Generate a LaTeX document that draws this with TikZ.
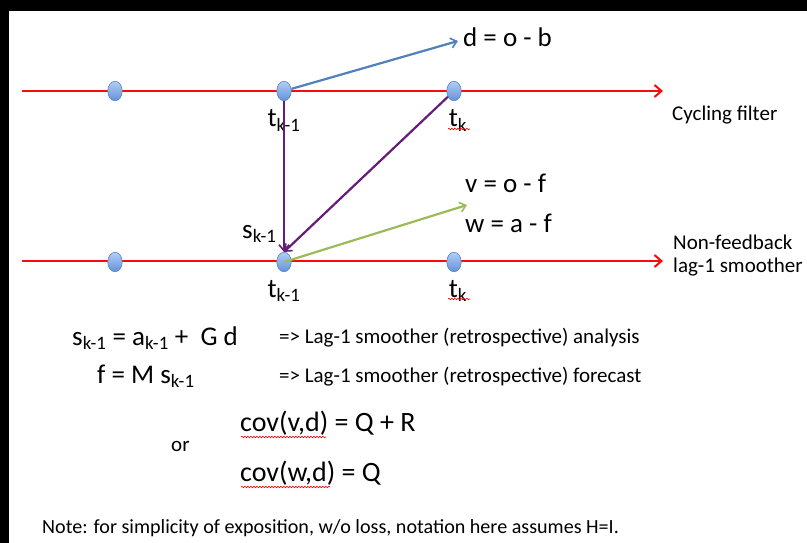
\documentclass[tikz,border=0pt]{standalone}
\usepackage{fontspec}
\setmainfont{Carlito}
\usetikzlibrary{arrows.meta,decorations.pathmorphing,shapes.geometric}
\definecolor{lnred}{RGB}{250,10,10}
\definecolor{arblue}{RGB}{79,129,189}
\definecolor{arpurple}{RGB}{102,28,120}
\definecolor{argreen}{RGB}{155,187,89}
\definecolor{dottop}{RGB}{178,206,246}
\definecolor{dotbot}{RGB}{98,146,218}
\definecolor{dotedge}{RGB}{92,132,196}
\newcommand{\bigtxt}{\fontsize{27}{32}\selectfont}
\newcommand{\midtxt}{\fontsize{21}{25}\selectfont}
\newcommand{\smalltxt}{\fontsize{20.1}{24}\selectfont}
\begin{document}
\begin{tikzpicture}[x=1pt,y=-1pt,
  dot/.style={ellipse, minimum width=14.5pt, minimum height=19.5pt, inner sep=0pt,
    draw=dotedge, line width=0.6pt, top color=dottop, bottom color=dotbot},
  timeline/.style={draw=lnred, line width=2.2pt,
    -{Straight Barb[length=7pt,width=12pt,line width=2pt]}},
  conn/.style={line width=2.2pt, -{Straight Barb[length=6pt,width=10pt,line width=1.6pt]}},
  eqn/.style={inner sep=0pt, anchor=base west, font=\bigtxt},
  lbl/.style={inner sep=0pt, anchor=base west, font=\midtxt},
  tlab/.style={inner sep=0pt, anchor=base, font=\bigtxt},
  spell/.style={draw=red, line width=0.6pt, decorate,
    decoration={snake, amplitude=0.8pt, segment length=3pt}}
]
\useasboundingbox (0,0) rectangle (807,543);
\fill[white] (0,0) rectangle (807,543);
\fill[black] (0,0) rectangle (807,11);
\fill[black] (0,0) rectangle (9,543);

% timelines
\coordinate (ls1) at (22,91);
\coordinate (le1) at (663,91);
\coordinate (ls2) at (22,261);
\coordinate (le2) at (663,261);
\draw[timeline] (ls1) -- (le1);
\draw[timeline] (ls2) -- (le2);

% dots
\node[dot] (a1) at (115,91) {};
\node[dot] (a2) at (284,91) {};
\node[dot] (a3) at (454,91) {};
\node[dot] (b1) at (115,262) {};
\node[dot] (b2) at (284,262) {};
\node[dot] (b3) at (454,262) {};

% labels on the diagram
\node[eqn] (dlab) at (463,47) {d = o - b};
\node[eqn] (vlab) at (465,193) {v = o - f};
\node[eqn] (wlab) at (465,232) {w = a - f};
\node[eqn] (slab) at (242,238) {s\textsubscript{k-1}};
\coordinate (dtip) at (458,41);
\coordinate (gtip) at (467,205);

\node[tlab] (ta1) at (284,127) {t\textsubscript{k-1}};
\node[tlab] (ta2) at (458,127) {t\textsubscript{k}};
\node[tlab] (tb1) at (284,297) {t\textsubscript{k-1}};
\node[tlab] (tb2) at (458,297) {t\textsubscript{k}};

\node[lbl] (cyc) at (672,121) {Cycling filter};
\node[lbl] (nf1) at (673,249) {Non-feedback};
\node[lbl] (nf2) at (673,272) {lag-1 smoother};

% connectors
\draw[conn, draw=arblue] (a2) -- (dtip);
\draw[conn, draw=arpurple] (a2) -- (b2.north);
\draw[conn, draw=arpurple] (a3) -- (b2.north);
\draw[conn, draw=argreen] (b2.center) -- (gtip);

% equations
\node[eqn] (eq1) at (72,345) {s\textsubscript{k-1} = a\textsubscript{k-1} +\ \ G d};
\node[lbl] (eq1r) at (279,343) {=> Lag-1 smoother (retrospective) analysis};
\node[eqn] (eq2) at (97,383) {f = M s\textsubscript{k-1}};
\node[lbl] (eq2r) at (279,382) {=> Lag-1 smoother (retrospective) forecast};

\node[eqn, font=\fontsize{28}{32}\selectfont] (cov1) at (240,431) {cov(v,d) = Q + R};
\node[eqn, font=\fontsize{28}{32}\selectfont] (cov2) at (240,481) {cov(w,d) = Q};
\node[lbl] (or) at (171,451) {or};

\node[inner sep=0pt, anchor=base west, font=\smalltxt] (note) at (42,533)
  {Note: for simplicity of exposition, w/o loss, notation here assumes H=I.};

% spell-check underlines
\draw[spell] (448,129) -- (470,129);
\draw[spell] (448,299) -- (470,299);
\draw[spell] (241,437) -- (326,437);
\draw[spell] (241,487) -- (330,487);
\end{tikzpicture}
\end{document}
